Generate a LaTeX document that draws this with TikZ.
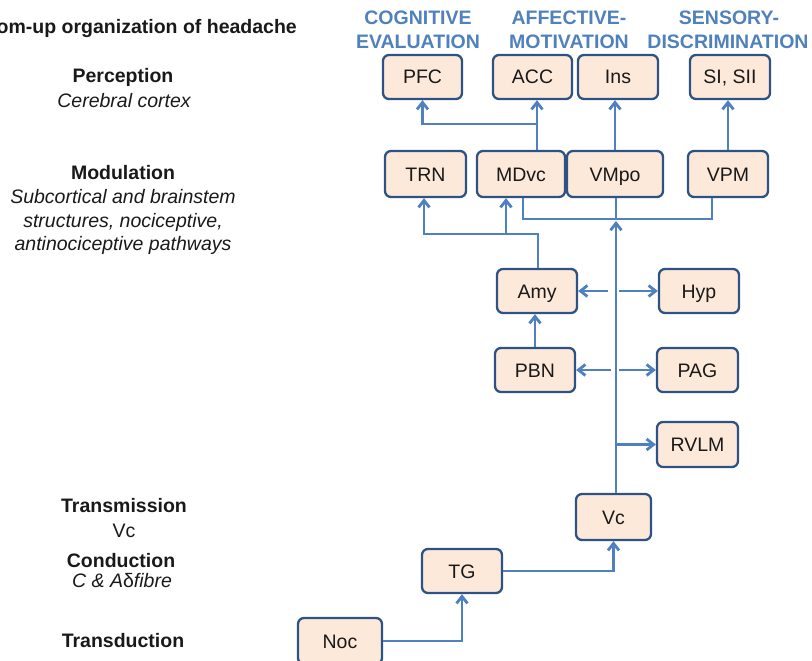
\documentclass[tikz,border=0pt]{standalone}
\usepackage{fontspec}
\setmainfont{Liberation Sans}
\usetikzlibrary{arrows.meta}
\definecolor{lineblue}{RGB}{79,129,193}
\definecolor{hdrblue}{RGB}{79,129,189}
\definecolor{boxborder}{RGB}{47,82,132}
\definecolor{boxfill}{RGB}{252,233,218}
\definecolor{txt}{RGB}{25,25,25}
\begin{document}
\begin{tikzpicture}[x=1pt,y=-1pt,
  font=\fontsize{19.5}{23.5}\selectfont,
  box/.style={draw=boxborder, line width=2.3pt, fill=boxfill, rounded corners=6pt,
    minimum height=44pt, inner sep=0pt, text=txt, text height=14pt, text depth=0pt},
  conn/.style={draw=lineblue, line width=2.8pt},
  arr/.style={conn, -{Straight Barb[length=7pt,width=11pt]}},
  lbl/.style={anchor=base, inner sep=0pt, text=txt},
  hdr/.style={anchor=base, inner sep=0pt, text=hdrblue, font=\fontsize{19.5}{23.5}\selectfont\bfseries}
]
\clip (0,0) rectangle (812,661);

% headers
\node[hdr] (h1a) at (418,25) {COGNITIVE};
\node[hdr] (h1b) at (418,49) {EVALUATION};
\node[hdr] (h2a) at (569,25) {AFFECTIVE-};
\node[hdr] (h2b) at (569,49) {MOTIVATION};
\node[hdr] (h3a) at (729,25) {SENSORY-};
\node[hdr] (h3b) at (728,49) {DISCRIMINATION};

% left labels
\node[lbl, anchor=base east] (title) at (297,34) {\bfseries Bottom-up organization of headache};
\node[lbl] (perc) at (123,83) {\bfseries Perception};
\node[lbl] (percd) at (124,107) {\itshape Cerebral cortex};
\node[lbl] (mod) at (123,179) {\bfseries Modulation};
\node[lbl] (modd1) at (123,203) {\itshape Subcortical and brainstem};
\node[lbl] (modd2) at (123,227) {\itshape structures, nociceptive,};
\node[lbl] (modd3) at (123,250) {\itshape antinociceptive pathways};
\node[lbl] (trans) at (124,512) {\bfseries Transmission};
\node[lbl] (transd) at (124,537) {Vc};
\node[lbl] (cond) at (121,567) {\bfseries Conduction};
\node[lbl] (condd) at (122,587) {{\itshape C \& A}δ{\itshape fibre}};
\node[lbl] (transdu) at (123,647) {\bfseries Transduction};

% boxes
\node[box, minimum width=79pt] (pfc) at (422.5,77) {PFC};
\node[box, minimum width=79pt] (acc) at (532.5,77) {ACC};
\node[box, minimum width=80pt] (ins) at (618,77) {Ins};
\node[box, minimum width=80pt] (si) at (730,77) {SI, SII};
\node[box, minimum width=81pt, minimum height=46pt] (trn) at (425.5,174) {TRN};
\node[box, minimum width=88pt, minimum height=46pt] (mdvc) at (521,174) {MDvc};
\node[box, minimum width=96pt, minimum height=46pt] (vmpo) at (615,174) {VMpo};
\node[box, minimum width=80pt, minimum height=46pt] (vpm) at (728,174) {VPM};
\node[box, minimum width=80pt] (amy) at (537,291) {Amy};
\node[box, minimum width=80pt] (hyp) at (699,291) {Hyp};
\node[box, minimum width=80pt] (pbn) at (535,370) {PBN};
\node[box, minimum width=81pt] (pag) at (697.5,370) {PAG};
\node[box, minimum width=81pt, minimum height=45pt] (rvlm) at (697.5,444.5) {RVLM};
\node[box, minimum width=75pt, minimum height=46pt] (vc) at (613.5,517) {Vc};
\node[box, minimum width=80pt] (tg) at (462,571) {TG};
\node[box, minimum width=84pt, minimum height=46pt] (noc) at (340,641) {Noc};

% coordinates
\coordinate (j) at (616,219);
\coordinate (jt) at (616,221);
\coordinate (b1) at (538,234);
\coordinate (b2) at (506,234);
\coordinate (c1) at (537,124);
\coordinate (tA) at (608,291);
\coordinate (tH) at (619,291);
\coordinate (tP) at (611,370);
\coordinate (tG) at (619,370);

% lower pathway
\draw[arr] (noc.east) -| (tg.south);
\draw[arr] (tg.east) -| (vc.south);
\draw[arr] (vc.north -| j) -- (jt);

% thalamic merge
\draw[conn] ([xshift=2pt]mdvc.south) |- (j);
\draw[conn] ([xshift=-16pt]vpm.south) |- (j);
\draw[conn] (vmpo.south -| j) -- (j);

% side branches
\draw[arr] (tA) -- (amy.east);
\draw[arr] (tH) -- (hyp.west);
\draw[arr] (tP) -- (pbn.east);
\draw[arr] (tG) -- (pag.west);
\draw[arr] (j |- rvlm.west) -- (rvlm.west);
\draw[arr] (pbn.north) -- (pbn.north |- amy.south);

% amygdala to thalamus
\draw[arr] (amy.north -| b1) -- (b1) -| ([xshift=-1.5pt]trn.south);
\draw[arr] (b2) -- (b2 |- mdvc.south);

% thalamus to cortex
\draw[arr] (mdvc.north -| c1) -- (c1 |- acc.south);
\draw[arr] (c1) -| (pfc.south);
\draw[arr] (vmpo.north) -- (vmpo.north |- ins.south);
\draw[arr] (vpm.north) -- (vpm.north |- si.south);
\end{tikzpicture}
\end{document}
